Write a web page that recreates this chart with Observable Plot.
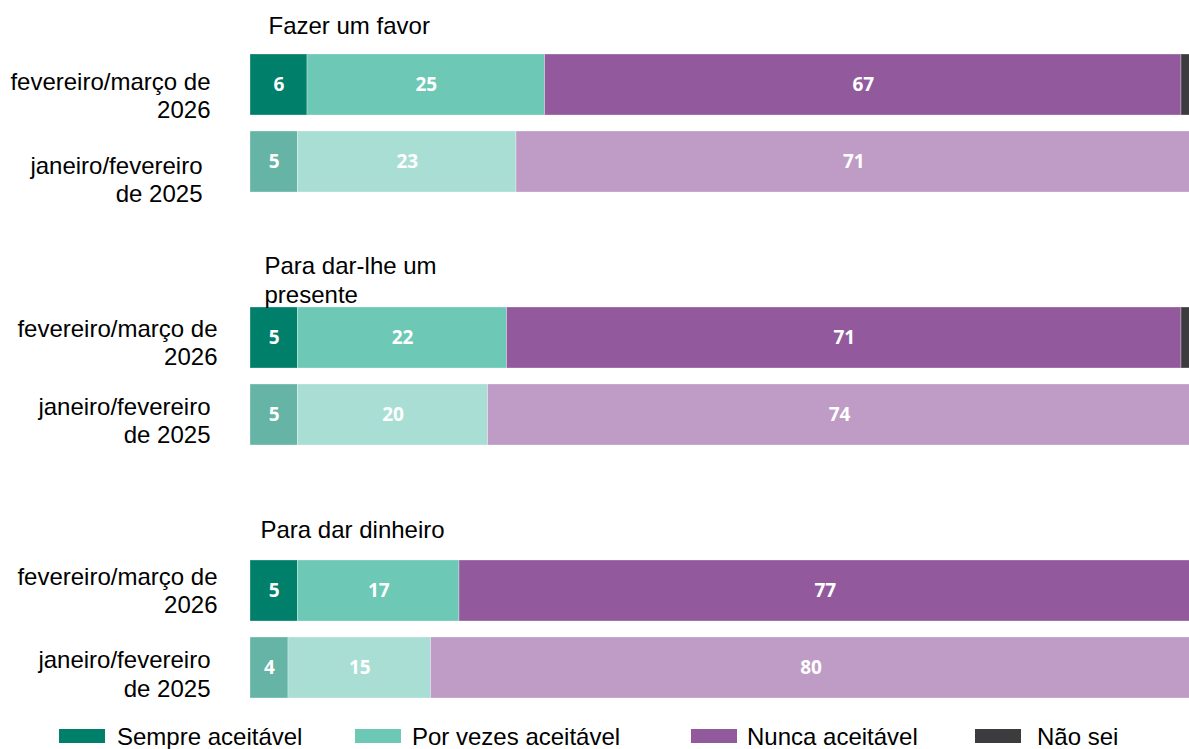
<!DOCTYPE html>
<html><head><meta charset="utf-8">
<script src="https://cdn.jsdelivr.net/npm/d3@7"></script>
<script src="https://cdn.jsdelivr.net/npm/@observablehq/plot@0.6"></script>
<style>
html,body{margin:0;padding:0;background:#fff;}
#wrap{position:relative;width:1189px;height:749px;overflow:hidden;}
#chart{position:absolute;left:0;top:0;width:1189px;}
#legend{position:absolute;left:0;top:712px;}
</style></head><body>
<div id="wrap"><div id="chart"></div><svg id="legend" width="1189" height="37"></svg></div>
<script>
const groups = ["Fazer um favor", "Para dar-lhe um presente", "Para dar dinheiro"];
const groupTitles = ["Fazer um favor", "Para dar-lhe um\npresente", "Para dar dinheiro"];
const periods = ["fevereiro/março de 2026", "janeiro/fevereiro de 2025"];
const periodLabels = ["fevereiro/março de\n2026", "janeiro/fevereiro\nde 2025"];
const categories = ["Sempre aceitável", "Por vezes aceitável", "Nunca aceitável", "Não sei"];
// values per group: [2026, 2025]
const sempre   = [[6, 5], [5, 5], [5, 4]];
const porVezes = [[25, 23], [22, 20], [17, 15]];
const nunca    = [[67, 71], [71, 74], [77, 80]];
const naoSei   = [[2, 1], [2, 1], [1, 1]];
const colors2026 = ["#00806a", "#6dc8b5", "#925a9d", "#3c3c3e"];
const colors2025 = ["#66b4a6", "#a9ded5", "#bf9cc6", "#8c8c8c"];

const series = [sempre, porVezes, nunca, naoSei];
const rows = [];
groups.forEach((g, gi) => periods.forEach((p, pi) => categories.forEach((c, ci) =>
  rows.push({group: g, period: p, category: c, key: c + "|" + p, value: series[ci][gi][pi]}))));
const colorDomain = [], colorRange = [];
periods.forEach((p, pi) => categories.forEach((c, ci) => {
  colorDomain.push(c + "|" + p);
  colorRange.push((pi === 0 ? colors2026 : colors2025)[ci]);
}));
const labelRows = groups.flatMap((g) => periods.map((p, pi) => ({group: g, period: p, label: periodLabels[pi]})));
const titleRows = groups.map((g, gi) => ({group: g, title: groupTitles[gi]}));

const FONT = "'Liberation Sans', Arial, Helvetica, sans-serif";
// layout nudges (dx, dy) per group / period
const labelNudge = [[[-40, 33], [-48, 40]], [[-33, 27], [-40, 28]], [[-33, 22], [-40, 28.5]]];
const titleNudge = [[18, -20], [14, -4], [10, -22]];

const labelMarks = [];
groups.forEach((g, gi) => periods.forEach((p, pi) => {
  labelMarks.push(Plot.text(labelRows.filter(d => d.group === g && d.period === p), {
    y: "period", fy: "group", text: "label", frameAnchor: "left", textAnchor: "end",
    lineAnchor: "bottom", lineHeight: 1.17, dx: labelNudge[gi][pi][0], dy: labelNudge[gi][pi][1],
    fontSize: 24, fontFamily: FONT, fill: "#000"
  }));
}));
const titleMarks = groups.map((g, gi) => Plot.text(titleRows.filter(d => d.group === g), {
  fy: "group", text: "title", frameAnchor: "top-left", textAnchor: "start", lineAnchor: "bottom",
  lineHeight: 1.17, dx: titleNudge[gi][0], dy: titleNudge[gi][1], fontSize: 24, fontFamily: FONT, fill: "#000"
}));

const chart = Plot.plot({
  width: 1189, height: 712,
  marginTop: 52, marginBottom: 13.5, marginLeft: 250, marginRight: 0,
  style: {background: "white", overflow: "hidden"},
  x: {domain: [0, 100], range: [250, 1200], axis: null},
  y: {domain: periods, paddingInner: 0.2115, paddingOuter: 0, axis: null},
  fy: {domain: groups, paddingInner: 0.4497, paddingOuter: 0, axis: null},
  color: {type: "ordinal", domain: colorDomain, range: colorRange},
  marks: [
    Plot.barX(rows, Plot.stackX({x: "value", y: "period", fy: "group", fill: "key",
      stroke: "#ffffff", strokeOpacity: 0.3, strokeWidth: 1})),
    Plot.text(rows, Plot.stackX({x: "value", y: "period", fy: "group",
      filter: d => d.category !== "Não sei", text: d => String(d.value),
      fill: "white", fontSize: 19, fontWeight: 700, fontFamily: "'Open Sans', 'DejaVu Sans', sans-serif"})),
    ...labelMarks,
    ...titleMarks
  ]
});
document.getElementById("chart").appendChild(chart);

// legend
const legendSwatchX = [59, 355, 691, 975];
const legendTextX = [117, 412, 747, 1037];
const lg = d3.select("#legend");
categories.forEach((c, i) => {
  lg.append("rect").attr("x", legendSwatchX[i]).attr("y", 17).attr("width", 46).attr("height", 14).attr("fill", colors2026[i]);
  lg.append("text").attr("x", legendTextX[i]).attr("y", 32.5).attr("font-size", 24)
    .attr("font-family", FONT).attr("fill", "#000").text(c);
});
</script></body></html>
